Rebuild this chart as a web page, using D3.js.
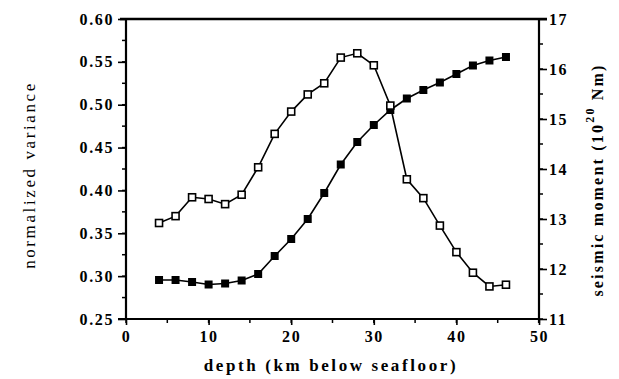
<!DOCTYPE html>
<html><head><meta charset="utf-8">
<script src="https://cdn.jsdelivr.net/npm/d3@7"></script>
<style>body{margin:0;background:#fff}svg{display:block}</style>
</head><body>
<svg id="c" width="619" height="379"></svg>
<script>
const depth = [4,6,8,10,12,14,16,18,20,22,24,26,28,30,32,34,36,38,40,42,44,46];
const variance = [0.362,0.370,0.392,0.390,0.384,0.395,0.427,0.466,0.492,0.512,0.525,0.555,0.560,0.546,0.499,0.413,0.391,0.359,0.328,0.304,0.288,0.290];
const moment = [11.78,11.78,11.74,11.69,11.71,11.77,11.90,12.26,12.60,13.00,13.52,14.09,14.54,14.88,15.18,15.41,15.58,15.73,15.90,16.07,16.17,16.24];
const xTicks = [0,10,20,30,40,50];
const yLeftTicks = [0.25,0.30,0.35,0.40,0.45,0.50,0.55,0.60];
const yRightTicks = [11,12,13,14,15,16,17];

const svg = d3.select("#c");
const L=126,R=539,T=19,B=319;
const x = d3.scaleLinear().domain([0,50]).range([L,R]);
const yl = d3.scaleLinear().domain([0.25,0.60]).range([B,T]);
const yr = d3.scaleLinear().domain([11,17]).range([B,T]);
const serif = "'Liberation Serif','DejaVu Serif',serif";

// minor ticks
const gl = svg.append("g");
d3.range(0.25,0.6001,0.025).forEach(v=>{
  gl.append("line").attr("x1",L).attr("x2",L-4).attr("y1",yl(v)).attr("y2",yl(v)).attr("stroke","#000").attr("stroke-width",1.5);
});
d3.range(11,17.001,0.5).forEach(v=>{
  gl.append("line").attr("x1",R).attr("x2",R+4).attr("y1",yr(v)).attr("y2",yr(v)).attr("stroke","#000").attr("stroke-width",1.5);
});
d3.range(0,50.01,5).forEach(v=>{
  gl.append("line").attr("x1",x(v)).attr("x2",x(v)).attr("y1",B).attr("y2",B+4).attr("stroke","#000").attr("stroke-width",1.5);
});

const ax = svg.append("g").attr("transform",`translate(0,${B})`)
  .call(d3.axisBottom(x).tickValues(xTicks).tickSize(6).tickPadding(6).tickFormat(d3.format("d")));
const ayl = svg.append("g").attr("transform",`translate(${L},0)`)
  .call(d3.axisLeft(yl).tickValues(yLeftTicks).tickSize(8).tickPadding(4).tickFormat(d3.format(".2f")));
const ayr = svg.append("g").attr("transform",`translate(${R},0)`)
  .call(d3.axisRight(yr).tickValues(yRightTicks).tickSize(8).tickPadding(2).tickFormat(d3.format("d")));
[ax,ayl,ayr].forEach(g=>{
  g.select(".domain").attr("stroke-width",2.2);
  g.selectAll(".tick line").attr("stroke-width",1.6);
  g.selectAll("text").attr("font-family",serif).attr("font-weight","bold").attr("font-size",16).attr("letter-spacing",1.6).attr("fill","#000");
});
ayl.select(".domain").attr("d",`M0,${B}V${T}`);
ayr.select(".domain").attr("d",`M0,${B+4}V${T}`);
ax.select(".domain").attr("d",`M${L-8},0H${R}`);
svg.append("line").attr("x1",L-6).attr("x2",R+8).attr("y1",T).attr("y2",T).attr("stroke","#000").attr("stroke-width",2.6);

// lines
const lineV = d3.line().x((d,i)=>x(depth[i])).y(d=>yl(d));
const lineM = d3.line().x((d,i)=>x(depth[i])).y(d=>yr(d));
svg.append("path").attr("d",lineM(moment)).attr("fill","none").attr("stroke","#000").attr("stroke-width",1.6);
svg.append("path").attr("d",lineV(variance)).attr("fill","none").attr("stroke","#000").attr("stroke-width",1.6);
const s=8;
svg.append("g").selectAll("rect").data(moment).join("rect")
  .attr("x",(d,i)=>x(depth[i])-s/2).attr("y",d=>yr(d)-s/2).attr("width",s).attr("height",s)
  .attr("fill","#000");
svg.append("g").selectAll("rect").data(variance).join("rect")
  .attr("x",(d,i)=>x(depth[i])-s/2+0.5).attr("y",d=>yl(d)-s/2+0.5).attr("width",s-1).attr("height",s-1)
  .attr("fill","#fff").attr("stroke","#000").attr("stroke-width",1.6);

// titles
svg.append("text").attr("x",331).attr("y",371).attr("text-anchor","middle")
  .attr("font-family",serif).attr("font-weight","bold").attr("font-size",17).attr("letter-spacing",2.6)
  .text("depth (km below seafloor)");
svg.append("text").attr("transform","translate(35,175) rotate(-90)").attr("text-anchor","middle")
  .attr("font-family",serif).attr("font-size",17).attr("letter-spacing",2.6)
  .text("normalized variance");
const rt = svg.append("text").attr("transform","translate(603,180) rotate(-90)").attr("text-anchor","middle")
  .attr("font-family",serif).attr("font-weight","bold").attr("font-size",16).attr("letter-spacing",2.2);
rt.append("tspan").text("seismic moment (10");
rt.append("tspan").attr("dy",-9).attr("font-size",12).text("20");
rt.append("tspan").attr("dy",9).text(" Nm)");
</script>
</body></html>
